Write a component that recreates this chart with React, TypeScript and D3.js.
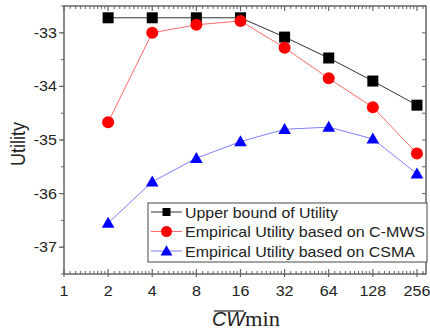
import React from "react";
import * as d3 from "d3";

const xTicks = [1, 2, 4, 8, 16, 32, 64, 128, 256];
const cwValues = [2, 4, 8, 16, 32, 64, 128, 256];
const upperBound = [-32.72, -32.72, -32.72, -32.72, -33.08, -33.47, -33.9, -34.35];
const cmws = [-34.67, -33.0, -32.85, -32.78, -33.28, -33.85, -34.39, -35.25];
const csma = [-36.55, -35.78, -35.34, -35.03, -34.8, -34.76, -34.98, -35.63];
const yTicks = [-33, -34, -35, -36, -37];
const seriesNames = [
  "Upper bound of Utility",
  "Empirical Utility based on C-MWS",
  "Empirical Utility based on CSMA",
];

const W = 430;
const H = 332;
const left = 64;
const right = 426;
const top = 6;
const bottom = 274;
const font = "Arial, 'Liberation Sans', sans-serif";
const frame = "#666";
const SX = 1.15; // the reference glyphs are a bit wide
const legendLen = [153, 240, 230];

export default function App() {
  const x = d3.scaleLog().base(2).domain([1, Math.pow(2, 8.205)]).range([left, right]);
  const y = d3.scaleLinear().domain([-37.5, -32.5]).range([bottom, top]);

  const line = d3
    .line<number>()
    .x((_, i) => x(cwValues[i]))
    .y((d) => y(d));

  // minor ticks between powers of two
  const minor: number[] = [];
  for (let p = 0; p < 9; p++) {
    const base = Math.pow(2, p);
    for (let k = 1; k < 10; k++) {
      const v = base * (1 + k / 10);
      if (x(v) < right) minor.push(v);
    }
  }
  const halfTicks = d3.range(-37.5, -32.4, 0.5);

  const series = [
    { data: upperBound, line: "#333", fill: "#000", shape: "square" },
    { data: cmws, line: "#ff6a6a", fill: "#ff0000", shape: "circle" },
    { data: csma, line: "#7f7fff", fill: "#0000ff", shape: "triangle" },
  ];

  const marker = (shape: string, cx: number, cy: number, fill: string, key: any) => {
    if (shape === "square")
      return <rect key={key} x={cx - 5.5} y={cy - 5.5} width={11} height={11} fill={fill} />;
    if (shape === "circle") return <circle key={key} cx={cx} cy={cy} r={6} fill={fill} />;
    const sym = d3.symbol().type(d3.symbolTriangle).size(70)();
    return <path key={key} d={sym || ""} transform={`translate(${cx},${cy + 1})`} fill={fill} />;
  };

  return (
    <svg width={W} height={H} style={{ position: "absolute", left: 0, top: 0, background: "#fff" }}>
      {/* frame */}
      <rect x={left} y={top} width={right - left} height={bottom - top} fill="none" stroke={frame} strokeWidth={1.5} />

      {/* x minor ticks (bottom inward, top inward) */}
      {minor.map((v, i) => (
        <g key={"mn" + i} stroke={frame} strokeWidth={1}>
          <line x1={x(v)} x2={x(v)} y1={bottom} y2={bottom - 3} />
          <line x1={x(v)} x2={x(v)} y1={top} y2={top + 3} />
        </g>
      ))}
      {xTicks.map((v) => (
        <g key={"xt" + v}>
          <line x1={x(v)} x2={x(v)} y1={bottom + 3} y2={bottom - 5} stroke={frame} strokeWidth={1.2} />
          <line x1={x(v)} x2={x(v)} y1={top} y2={top + 5} stroke={frame} strokeWidth={1.2} />
          <text transform={`translate(${x(v)},296) scale(${SX},1)`} textAnchor="middle" fontFamily={font} fontSize={14} fill="#222">
            {v}
          </text>
        </g>
      ))}

      {/* y ticks */}
      {halfTicks.map((v, i) => (
        <g key={"yh" + i} stroke={frame} strokeWidth={1}>
          <line x1={left} x2={left - 3} y1={y(v)} y2={y(v)} />
          <line x1={right} x2={right - 4} y1={y(v)} y2={y(v)} />
        </g>
      ))}
      {yTicks.map((v) => (
        <g key={"yt" + v}>
          <line x1={left} x2={left - 5} y1={y(v)} y2={y(v)} stroke={frame} strokeWidth={1.2} />
          <text transform={`translate(57,${y(v) + 5}) scale(${SX},1)`} textAnchor="end" fontFamily={font} fontSize={14} fill="#222">
            {v}
          </text>
        </g>
      ))}

      {/* series */}
      {series.map((s, si) => (
        <g key={"s" + si}>
          <path d={line(s.data) || ""} fill="none" stroke={s.line} strokeWidth={1} />
          {s.data.map((d, i) => marker(s.shape, x(cwValues[i]), y(d), s.fill, i))}
        </g>
      ))}

      {/* legend */}
      <rect x={148} y={203} width={279} height={59} fill="#fff" stroke={frame} strokeWidth={1.2} />
      {series.map((s, i) => {
        const ly = 212 + i * 19.5;
        return (
          <g key={"lg" + i}>
            <line x1={151} x2={182} y1={ly} y2={ly} stroke={s.line} strokeWidth={1} />
            {s.shape === "square"
              ? <rect x={166.5 - 4} y={ly - 4} width={8} height={8} fill={s.fill} />
              : s.shape === "circle"
              ? <circle cx={166.5} cy={ly} r={5.5} fill={s.fill} />
              : <path d={d3.symbol().type(d3.symbolTriangle).size(60)() || ""} transform={`translate(166.5,${ly + 1})`} fill={s.fill} />}
            <text
              x={185}
              y={ly + 5.5}
              textLength={legendLen[i]}
              lengthAdjust="spacingAndGlyphs"
              fontFamily={font}
              fontSize={15}
              fill="#222"
            >
              {seriesNames[i]}
            </text>
          </g>
        );
      })}

      {/* axis titles */}
      <text
        transform={`translate(25,144) rotate(-90) scale(1,${SX})`}
        textAnchor="middle"
        fontFamily={font}
        fontSize={18}
        fill="#222"
      >
        Utility
      </text>
      <line x1={214} x2={244} y1={311} y2={311} stroke="#222" strokeWidth={1.2} />
      <text x={212} y={326} textLength={33} lengthAdjust="spacingAndGlyphs" fontFamily={font} fontSize={20} fontStyle="italic" fill="#222">
        CW
      </text>
      <text x={245} y={326} textLength={35} lengthAdjust="spacingAndGlyphs" fontFamily="'Liberation Serif', 'DejaVu Serif', serif" fontSize={20} fill="#222">
        min
      </text>
    </svg>
  );
}
